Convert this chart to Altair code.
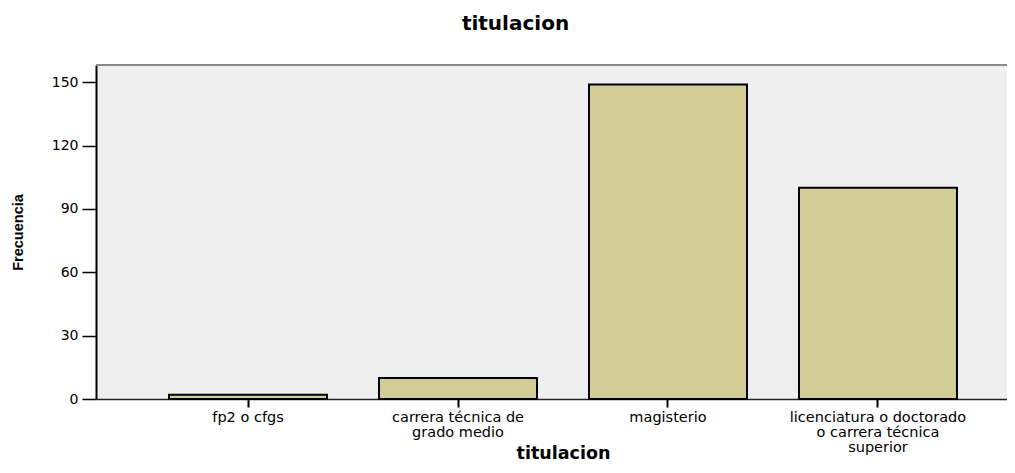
import altair as alt
import pandas as pd

# categories (tick labels with line breaks) and frequencies
categories = [
    "fp2 o cfgs",
    "carrera técnica de\ngrado medio",
    "magisterio",
    "licenciatura o doctorado\no carrera técnica\nsuperior",
]
freq = [2, 10, 149, 100]
y_ticks = [0, 30, 60, 90, 120, 150]

df = pd.DataFrame({"titulacion": categories, "Frecuencia": freq})

W = 911
H = 334

base = alt.Chart(df)

bars = base.mark_bar(
    fill="#d3ce98", stroke="#000000", strokeWidth=2
).encode(
    x=alt.X(
        "titulacion:N",
        sort=categories,
        scale=alt.Scale(paddingInner=0.2476, paddingOuter=0.293, align=0.5935),
        axis=alt.Axis(
            title="titulacion",
            titleFont="DejaVu Sans",
            titleFontSize=17.5,
            titleFontWeight="bold",
            titleColor="#000000",
            titleX=467,
            titleY=54,
            titleBaseline="middle",
            titleAlign="center",
            labelAngle=0,
            labelFont="DejaVu Sans",
            labelFontSize=14.5,
            labelColor="#000000",
            labelLineHeight=15,
            labelPadding=3,
            labelLimit=400,
            labelExpr="split(datum.label, '\\n')",
            labelBaseline="top",
            tickSize=8,
            tickWidth=2,
            tickColor="#000000",
            domainColor="#222222",
            domainWidth=1.5,
        ),
    ),
    y=alt.Y(
        "Frecuencia:Q",
        scale=alt.Scale(domain=[0, 158.2], nice=False),
        axis=alt.Axis(
            values=y_ticks,
            title="Frecuencia",
            titleFont="Liberation Sans",
            titleFontSize=14.5,
            titleFontWeight="bold",
            titleColor="#000000",
            titleX=-78,
            titleY=167,
            titleAngle=270,
            titleBaseline="middle",
            titleAlign="center",
            labelFont="DejaVu Sans",
            labelFontSize=14,
            labelColor="#000000",
            labelPadding=4,
            tickSize=14,
            tickWidth=1.5,
            tickColor="#000000",
            domainColor="#000000",
            domainWidth=2,
            grid=False,
        ),
    ),
)

top_border = base.mark_rule(color="#8a8a8a", strokeWidth=1.5).encode(
    x=alt.value(0), x2=alt.value(W), y=alt.value(0)
)

chart = (
    alt.layer(bars, top_border)
    .properties(
        width=W,
        height=H,
        title=alt.TitleParams(
            "titulacion",
            font="DejaVu Sans",
            fontSize=20,
            fontWeight="bold",
            color="#000000",
            anchor="middle",
            frame="group",
            dx=-36,
            offset=30,
        ),
        autosize=alt.AutoSizeParams(type="none"),
        padding={"left": 88, "top": 57, "right": 0, "bottom": 66},
        background="#ffffff",
    )
    .configure_view(fill="#efefef", stroke=None)
)

chart.save("out.html", embed_options={"renderer": "svg", "actions": False})
